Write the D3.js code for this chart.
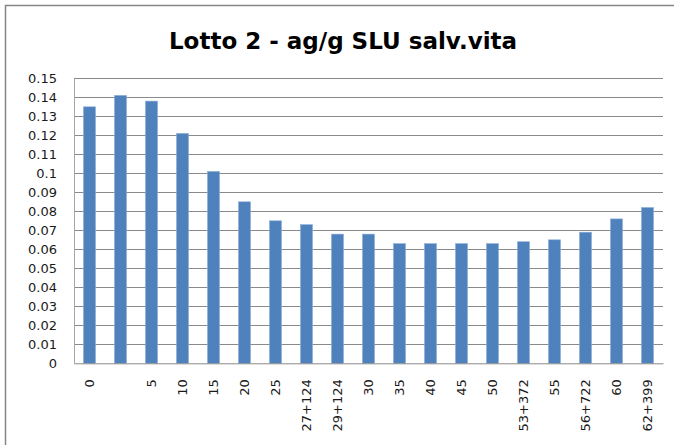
<!DOCTYPE html>
<html>
<head>
<meta charset="utf-8">
<script src="https://cdn.jsdelivr.net/npm/d3@7"></script>
<style>
  html, body { margin: 0; padding: 0; background: #fff; }
  svg { display: block; }
</style>
</head>
<body>
<svg id="chart" width="674" height="445"></svg>
<script>
const title = "Lotto 2 - ag/g SLU salv.vita";
const categories = ["0", "", "5", "10", "15", "20", "25", "27+124", "29+124", "30", "35", "40", "45", "50", "53+372", "55", "56+722", "60", "62+399"];
const values = [0.135, 0.141, 0.138, 0.121, 0.101, 0.085, 0.075, 0.073, 0.068, 0.068, 0.063, 0.063, 0.063, 0.063, 0.064, 0.065, 0.069, 0.076, 0.082];
const yTicks = [0, 0.01, 0.02, 0.03, 0.04, 0.05, 0.06, 0.07, 0.08, 0.09, 0.1, 0.11, 0.12, 0.13, 0.14, 0.15];

const svg = d3.select("#chart");
const W = 674, H = 445;
const plot = { left: 74, right: 663, top: 78.3, bottom: 363.3 };

// outer chart border (cropped at right/bottom)
svg.append("rect")
  .attr("x", 5.5).attr("y", 5.5)
  .attr("width", 720).attr("height", 500)
  .attr("fill", "#fff")
  .attr("stroke", "#868686")
  .attr("stroke-width", 1.5);

svg.append("text")
  .attr("x", 343).attr("y", 49)
  .attr("text-anchor", "middle")
  .attr("font-family", "DejaVu Sans")
  .attr("font-weight", "bold")
  .attr("font-size", 23)
  .attr("fill", "#000")
  .text(title);

const x = d3.scaleBand()
  .domain(d3.range(categories.length))
  .range([plot.left, plot.right])
  .paddingInner(0.61)
  .paddingOuter(0.305);

const y = d3.scaleLinear()
  .domain([0, 0.15])
  .range([plot.bottom, plot.top]);

// gridlines
svg.append("g")
  .selectAll("line")
  .data(yTicks.filter(d => d > 0))
  .join("line")
  .attr("x1", plot.left).attr("x2", plot.right)
  .attr("y1", d => Math.round(y(d)) + 0.5)
  .attr("y2", d => Math.round(y(d)) + 0.5)
  .attr("stroke", "#8a8a8a")
  .attr("stroke-width", 1);

// y axis
const yAxis = svg.append("g")
  .attr("transform", `translate(${plot.left},0)`)
  .call(d3.axisLeft(y).tickValues(yTicks).tickFormat(d => String(+d.toFixed(2))).tickSize(0).tickPadding(17));
yAxis.select(".domain").attr("stroke", "#a6a6a6");
yAxis.selectAll("text")
  .attr("font-family", "DejaVu Sans")
  .attr("font-size", 13)
  .attr("fill", "#1a1a1a");

// bars
svg.append("g")
  .selectAll("rect")
  .data(values)
  .join("rect")
  .attr("x", (d, i) => x(i))
  .attr("width", x.bandwidth())
  .attr("y", d => y(d))
  .attr("height", d => y(0) - y(d))
  .attr("fill", "#4F81BD")
  .attr("stroke", "#8fb0d9")
  .attr("stroke-width", 0.6);

// x axis
const xAxis = svg.append("g")
  .attr("transform", `translate(0,${plot.bottom})`)
  .call(d3.axisBottom(x).tickFormat(i => categories[i]).tickSize(0).tickPadding(0));
xAxis.select(".domain").attr("stroke", "#8a8a8a");
xAxis.selectAll("text")
  .attr("font-family", "DejaVu Sans")
  .attr("font-size", 13)
  .attr("fill", "#1a1a1a")
  .attr("transform", "rotate(-90)")
  .attr("text-anchor", "end")
  .attr("x", -16)
  .attr("y", 0)
  .attr("dy", "0.35em");
</script>
</body>
</html>
